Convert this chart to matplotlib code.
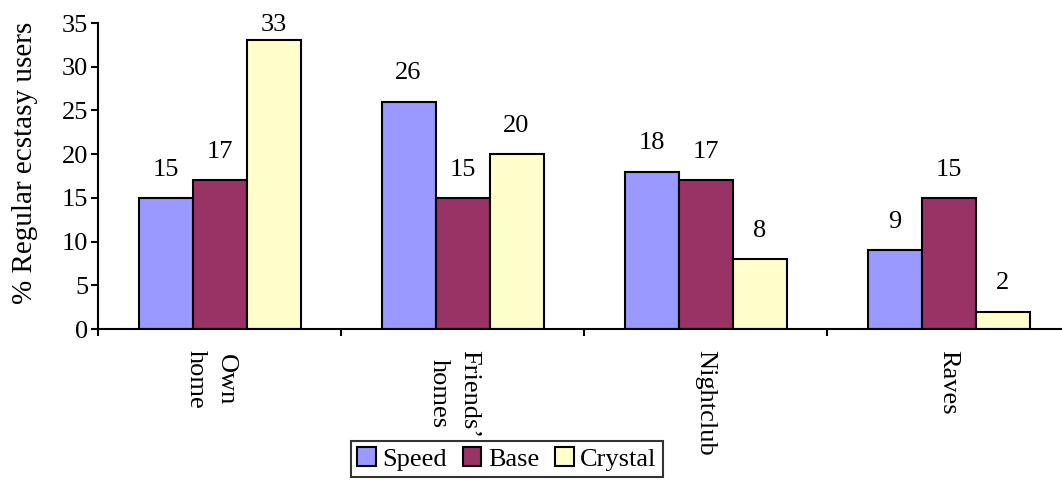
import numpy as np
import matplotlib
matplotlib.use("Agg")
import matplotlib.pyplot as plt

plt.rcParams['font.family'] = ['Liberation Serif', 'DejaVu Serif']

# Data
places = ["Own\nhome", "Friends\u2019\nhomes", "Nightclub", "Raves"]
speed = [15, 26, 18, 9]
base = [17, 15, 17, 15]
crystal = [33, 20, 8, 2]
series_names = ["Speed", "Base", "Crystal"]
series_colors = ["#9999FF", "#993366", "#FFFFCC"]

fs = 19

fig = plt.figure(figsize=(10.62, 4.84), dpi=100)
ax = fig.add_axes([98 / 1062, 1 - 329 / 484, 1 - 98 / 1062, (329 - 23) / 484])

x = np.arange(len(places))
w = 1 / 4.5
for k, (vals, name, col) in enumerate(zip([speed, base, crystal], series_names, series_colors)):
    bars = ax.bar(x + (k - 1) * w, vals, w, color=col, edgecolor='black',
                  linewidth=1.5, label=name)
    for b, v in zip(bars, vals):
        # labels near the top of the plot are pulled down to fit
        off = 6.5 if v > 30 else 16
        ax.annotate(str(v), (b.get_x() + b.get_width() / 2, v),
                    xytext=(0, off), textcoords='offset points',
                    ha='center', va='baseline', fontsize=fs)

ax.set_xlim(-0.5, (1062 - 98) / 243 - 0.5)
ax.set_ylim(0, 35)
ax.set_yticks(range(0, 36, 5))
# two-line labels sit slightly left of the group centre
ax.set_xticks([xi - 0.035 if "\n" in p else xi for xi, p in zip(x, places)])
ax.set_xticklabels(places, rotation=-90, fontsize=fs, linespacing=1.45,
                   ha='center', va='top')
ax.set_xticks(np.arange(-0.5, 3.0, 1.0), minor=True)
ax.tick_params(axis='x', which='major', length=0, pad=15)
ax.tick_params(axis='x', which='minor', length=5, width=1.5, direction='out')
ax.tick_params(axis='y', length=5, width=1.5, direction='out', labelsize=fs, pad=2)
for s in ['top', 'right']:
    ax.spines[s].set_visible(False)
for s in ['left', 'bottom']:
    ax.spines[s].set_linewidth(1.5)

fig.text(25 / 1062, 1 - 163 / 484, "% Regular ecstasy users", rotation=90,
         ha='center', va='center', fontsize=21)

leg = fig.legend(loc='center', bbox_to_anchor=(507 / 1062, 1 - 459 / 484),
                 ncol=3, fontsize=fs, frameon=True, fancybox=False,
                 edgecolor='black', handlelength=0.7, handleheight=0.7,
                 handletextpad=0.25, columnspacing=0.6, borderpad=0.25,
                 borderaxespad=0)
leg.get_frame().set_linewidth(1.5)
leg.set_zorder(5)

fig.savefig("out.png", dpi=100, facecolor='white')
